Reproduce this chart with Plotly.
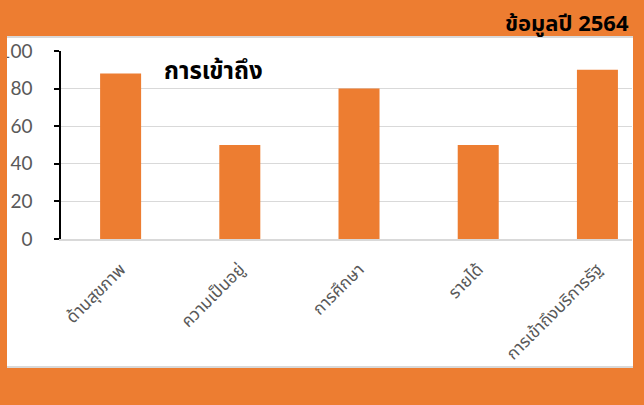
import plotly.graph_objects as go

categories = ["ด้านสุขภาพ", "ความเป็นอยู่", "การศึกษา", "รายได้", "การเข้าถึงบริการรัฐ"]
values = [88, 50, 80, 50, 90]
y_ticks = [0, 20, 40, 60, 80, 100]

ORANGE = "#ED7D31"
GRID = "#D9D9D9"
TXT = "#595959"
FONT = "Noto Sans Thai, Tahoma, Noto Sans, sans-serif"

W, H = 644, 405
L, R, T, B = 61, 12, 51, 166
pw = W - L - R
ph = H - T - B

def px(x):
    return (x - L) / pw

def py(y):
    return (H - B - y) / ph

fig = go.Figure()
fig.add_trace(go.Bar(x=categories, y=values, marker=dict(color=ORANGE, line=dict(width=0)),
                     hoverinfo="skip"))

shapes = [
    dict(type="rect", xref="paper", yref="paper", x0=px(7), x1=px(633), y0=py(368), y1=py(36),
         fillcolor="white", line=dict(width=0), layer="below"),
    dict(type="line", xref="paper", yref="paper", x0=px(7), x1=px(633), y0=py(37), y1=py(37),
         line=dict(color=GRID, width=2), layer="below"),
    dict(type="line", xref="paper", yref="paper", x0=px(7), x1=px(633), y0=py(367), y1=py(367),
         line=dict(color=GRID, width=2), layer="below"),
    dict(type="rect", xref="paper", yref="paper", x0=px(0), x1=px(7), y0=py(405), y1=py(0),
         fillcolor=ORANGE, line=dict(width=0), layer="above"),
]

annotations = [
    dict(text="<b>การเข้าถึง</b>", xref="paper", yref="paper", x=px(162), y=py(72),
         xanchor="left", yanchor="middle", showarrow=False,
         font=dict(family=FONT, size=24, color="black")),
    dict(text="<b>ข้อมูลปี 2564</b>", xref="paper", yref="paper", x=px(631), y=py(25),
         xanchor="right", yanchor="middle", showarrow=False,
         font=dict(family=FONT, size=22, color="black")),
]

fig.update_layout(
    width=W, height=H,
    margin=dict(l=L, r=R, t=T, b=B, autoexpand=False),
    paper_bgcolor=ORANGE,
    plot_bgcolor="white",
    showlegend=False,
    bargap=0.656,
    shapes=shapes,
    annotations=annotations,
    xaxis=dict(
        type="category", range=[-0.5, 4.29], automargin=False,
        showgrid=False, showline=True, linecolor=GRID, linewidth=1.5,
        ticks="", tickangle=-45, ticklabelstandoff=12,
        tickfont=dict(family=FONT, size=17, color=TXT),
    ),
    yaxis=dict(
        range=[0, 100], tickvals=y_ticks, automargin=False,
        showgrid=True, gridcolor=GRID, gridwidth=1,
        showline=True, linecolor="black", linewidth=1.5,
        ticks="outside", ticklen=5, tickcolor="black", tickwidth=1.5,
        ticklabelstandoff=18,
        tickfont=dict(family="Lato, sans-serif", size=19, color=TXT),
        zeroline=False,
    ),
)

fig.write_html("out.html")
